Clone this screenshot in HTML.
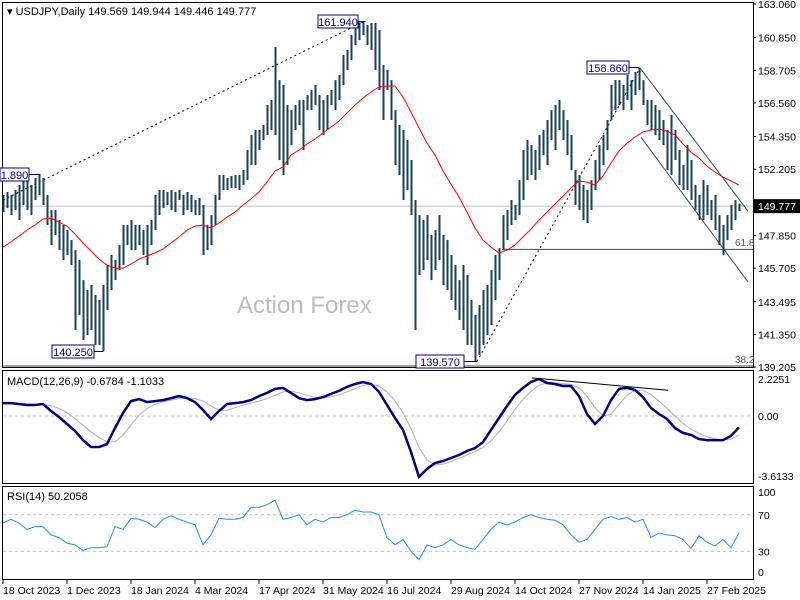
<!DOCTYPE html>
<html><head><meta charset="utf-8"><style>
html,body{margin:0;padding:0;background:#fff;}
svg{display:block;font-family:"Liberation Sans",sans-serif;}
</style></head><body>
<svg id="c" width="800" height="600" viewBox="0 0 800 600" xmlns="http://www.w3.org/2000/svg">
<rect x="0" y="0" width="800" height="600" fill="#fff"/>
<g id="frames" fill="none" stroke="#000" stroke-width="1">
<rect x="2.5" y="2.5" width="751" height="365"/>
<rect x="2.5" y="370.5" width="751" height="113"/>
<rect x="2.5" y="486.5" width="751" height="93"/>
</g>
<text x="237" y="313" font-size="24" fill="#bdbdbd">Action Forex</text>
<g id="marks"></g>
<text x="7" y="15" font-size="11" fill="#000">▾ USDJPY,Daily  149.569 149.944 149.446 149.777</text>
<text x="7" y="385" font-size="11" fill="#000">MACD(12,26,9) -0.6784 -1.1033</text>
<text x="7" y="500" font-size="11" fill="#000">RSI(14) 50.2058</text>
</svg>
<script>
const priceTicks=[163.060,160.850,158.705,156.560,154.350,152.205,147.850,145.705,143.495,141.350,139.205];
const macdTicks=[2.2251,0.00,-3.6133];
const rsiTicks=[100,70,30,0];
const dateLabels=["18 Oct 2023","1 Dec 2023","18 Jan 2024","4 Mar 2024","17 Apr 2024","31 May 2024","16 Jul 2024","29 Aug 2024","14 Oct 2024","27 Nov 2024","14 Jan 2025","27 Feb 2025"];
const highs=[150.51,150.71,150.51,150.84,151.17,151.49,151.49,151.17,151.63,151.89,151.63,150.51,149.52,149.52,148.87,148.54,148.21,147.55,146.89,146.24,144.92,144.27,144.60,143.94,143.61,144.60,145.91,146.57,146.24,147.22,148.54,148.54,148.87,148.54,148.54,148.21,148.54,148.87,150.51,150.84,150.84,150.71,150.84,150.71,150.84,150.51,150.71,150.51,150.18,150.31,149.85,148.54,149.19,150.51,151.82,151.82,151.63,151.76,151.82,151.82,152.15,153.47,154.45,154.78,154.78,155.11,156.42,156.75,160.23,158.06,157.74,156.42,156.09,156.42,156.75,156.75,157.08,157.41,157.74,157.08,156.75,157.08,157.41,158.06,158.39,159.71,160.04,161.02,161.68,161.87,161.94,161.68,161.81,161.81,161.35,159.05,158.72,158.06,156.09,155.11,154.78,154.12,152.81,150.18,149.19,148.87,149.19,147.88,148.21,149.19,147.88,147.55,146.57,145.91,144.92,145.91,145.25,143.61,142.63,143.28,144.27,144.60,145.58,146.57,147.03,149.19,149.52,150.18,149.85,151.49,153.47,154.12,153.79,153.47,154.45,154.78,155.44,156.09,156.42,156.75,156.09,155.44,154.45,152.15,151.82,151.17,150.84,151.49,152.81,153.79,154.45,155.44,157.74,158.06,158.06,157.74,158.39,158.06,158.59,158.86,158.06,156.75,156.75,156.42,156.09,155.44,154.78,155.76,154.78,153.47,152.48,153.79,152.81,151.17,150.51,151.49,151.17,150.18,150.51,149.19,148.54,149.19,149.85,150.18,149.94];
const lows=[149.39,149.65,149.19,149.52,148.87,149.85,149.52,149.19,150.18,150.51,149.85,148.54,147.22,147.88,146.89,146.24,146.57,145.91,141.64,142.63,140.98,141.31,141.64,140.66,140.66,140.25,142.95,144.27,144.92,145.58,145.91,147.22,146.89,146.89,147.22,146.57,145.91,147.22,148.21,149.19,149.65,149.85,149.52,149.39,150.18,149.19,149.52,149.39,149.19,149.19,146.57,146.89,147.22,148.54,150.18,150.84,150.84,150.97,150.97,150.84,151.17,151.49,152.48,152.48,153.47,154.12,154.45,154.78,154.45,152.81,151.82,152.48,153.79,154.78,155.11,153.47,156.09,156.09,156.42,154.78,154.45,154.78,156.42,156.09,156.75,157.74,158.72,159.38,160.36,160.69,161.02,160.36,160.04,158.72,157.41,155.44,157.41,155.44,152.48,151.82,150.18,150.84,149.19,141.64,145.25,145.58,146.24,144.92,145.58,146.24,144.60,144.27,143.61,142.95,142.30,141.64,140.66,140.66,139.57,140.00,140.66,141.31,141.97,143.61,144.92,146.89,147.55,148.54,148.87,149.19,150.18,151.49,151.82,151.49,152.15,153.14,152.48,154.12,153.47,154.78,154.12,153.14,152.15,149.85,149.52,148.87,148.67,149.52,150.84,151.49,152.48,153.47,155.44,156.09,156.42,156.09,156.75,156.09,157.08,157.41,156.42,155.11,154.78,154.45,154.12,153.79,152.15,151.82,152.81,151.17,150.84,150.84,150.18,149.52,148.87,148.87,149.19,148.87,148.21,147.22,146.57,147.55,148.21,148.87,149.45];
const ma=[147.09,147.42,147.81,148.21,148.54,148.93,149.00,148.73,148.47,147.95,147.36,146.83,146.30,145.91,145.71,145.71,145.98,146.30,146.50,146.70,146.96,147.36,147.75,148.21,148.47,148.54,148.34,148.67,149.06,149.39,149.85,150.25,150.71,151.36,152.09,152.35,153.14,153.46,153.86,154.19,154.58,154.98,155.37,155.90,156.42,156.88,157.28,157.60,157.67,157.67,156.95,155.96,154.91,153.92,153.14,152.09,151.23,150.38,149.39,148.34,147.55,147.09,146.70,146.89,147.22,147.75,148.27,148.87,149.39,149.92,150.44,150.97,151.43,151.36,151.17,151.76,152.61,153.40,153.92,154.32,154.65,154.78,154.84,154.71,154.45,153.86,153.33,152.94,152.41,152.02,151.69,151.43,151.17];
const macd=[0.78,0.78,0.72,0.66,0.66,0.72,0.30,-0.06,-0.48,-0.90,-1.45,-1.87,-1.87,-1.69,-0.72,0.18,0.90,1.02,0.84,0.90,0.96,1.08,1.20,1.08,0.84,0.36,-0.18,0.30,0.72,0.78,0.84,0.96,1.20,1.39,1.63,1.69,1.39,1.08,0.96,1.02,1.14,1.33,1.51,1.75,1.93,2.05,1.93,1.45,0.66,-0.12,-0.84,-2.17,-3.67,-3.19,-2.83,-2.71,-2.53,-2.35,-2.11,-1.93,-1.57,-0.84,-0.12,0.60,1.27,1.69,2.05,2.23,1.99,1.93,1.81,1.81,1.20,0.12,-0.48,0.00,0.96,1.63,1.69,1.57,1.14,0.48,0.12,-0.18,-0.72,-1.02,-1.14,-1.39,-1.45,-1.45,-1.45,-1.20,-0.68];
const signal=[0.78,0.78,0.76,0.72,0.70,0.70,0.62,0.45,0.20,-0.15,-0.55,-0.95,-1.30,-1.55,-1.55,-1.15,-0.55,0.05,0.45,0.70,0.85,0.95,1.05,1.10,1.05,0.90,0.60,0.35,0.35,0.50,0.65,0.78,0.90,1.05,1.25,1.45,1.50,1.40,1.25,1.12,1.08,1.15,1.28,1.45,1.65,1.85,1.92,1.80,1.45,0.90,0.20,-0.75,-1.90,-2.65,-2.95,-2.90,-2.75,-2.55,-2.35,-2.15,-1.90,-1.50,-0.95,-0.30,0.40,1.00,1.50,1.85,2.00,2.00,1.95,1.90,1.70,1.20,0.50,0.00,0.10,0.70,1.25,1.55,1.55,1.30,0.90,0.45,0.00,-0.45,-0.80,-1.05,-1.25,-1.38,-1.45,-1.40,-1.15];
const rsi=[61,65,61,54,57,57,48,45,39,37,31,34,34,35,57,54,66,65,62,56,65,69,65,62,59,37,48,66,65,65,67,78,78,81,86,65,67,70,59,65,62,67,67,70,75,73,73,70,45,37,43,30,21,37,34,37,43,37,34,32,43,54,62,59,62,67,70,67,65,64,59,48,40,43,54,65,68,65,67,62,65,45,50,48,47,43,33,47,40,36,43,34,50];
const lastPrice=149.777, fib618=146.94;

const NS='http://www.w3.org/2000/svg';
const g=document.getElementById('marks');
function py(p){return 4+(163.06-p)*15.22;}
function my(v){return 416-v*16.6;}
function ry(v){return 578.8-v*0.915;}
function bx(i){return 3.5+i*4;}
function lx(j){return 3+j*8;}
function mk(tag,attrs,parent){const e=document.createElementNS(NS,tag);for(const k in attrs)e.setAttribute(k,attrs[k]);(parent||g).appendChild(e);return e;}
function txt(x,y,s,size,fill,anchor){const t=mk('text',{x:x,y:y,'font-size':size,fill:fill});if(anchor)t.setAttribute('text-anchor',anchor);t.textContent=s;return t;}

// grid-ish reference lines
let l=mk('line',{x1:3,x2:753,y1:py(lastPrice),y2:py(lastPrice),stroke:'#c0c0c0','stroke-width':1});


l=mk('line',{x1:3,x2:753,y1:my(0),y2:my(0),stroke:'#c0c0c0','stroke-dasharray':'3,3'});


[70,30].forEach(v=>{const e=mk('line',{x1:3,x2:753,y1:ry(v),y2:ry(v),stroke:'#c0c0c0','stroke-dasharray':'3,3'});

});

// fib lines
l=mk('line',{x1:502,x2:753,y1:py(fib618),y2:py(fib618),stroke:'#2f4f4f','stroke-width':1});


l=mk('line',{x1:3,x2:753,y1:366,y2:366,stroke:'#2f4f4f','stroke-width':1});


let t=txt(735,246,'61.8',10,'#555');


t=txt(735,363,'38.2',10,'#555');



// trend lines
l=mk('line',{x1:3,y1:py(150.18),x2:365,y2:py(161.94),stroke:'#000','stroke-dasharray':'2,3'});


l=mk('line',{x1:477,y1:py(139.57),x2:640,y2:py(158.86),stroke:'#000','stroke-dasharray':'2,3'});


l=mk('line',{x1:640,y1:py(158.86),x2:748,y2:py(149.45),stroke:'#2f4f4f'});


l=mk('line',{x1:641,y1:py(154.3),x2:748,y2:py(144.8),stroke:'#2f4f4f'});



// price bars
highs.forEach((h,i)=>{const b=mk('rect',{x:bx(i)-1,y:py(h),width:2,height:Math.max(1,py(lows[i])-py(h)),fill:'#1a4055'});

});

// MA
function path(arr,xf,yf){return arr.map((v,j)=>(j?'L':'M')+xf(j).toFixed(1)+' '+yf(v).toFixed(1)).join(' ');}
l=mk('path',{d:path(ma,lx,py),fill:'none',stroke:'#ff0000','stroke-width':1});



// MACD
l=mk('path',{d:path(signal,lx,my),fill:'none',stroke:'#b0b0b0','stroke-width':1});


l=mk('path',{d:path(macd,lx,my),fill:'none',stroke:'#000080','stroke-width':2.5});


l=mk('line',{x1:532,y1:my(2.3),x2:668,y2:my(1.55),stroke:'#000','stroke-width':1});



// RSI
l=mk('path',{d:path(rsi,lx,ry),fill:'none',stroke:'#1e90ff','stroke-width':1});



// price label boxes
function box(x,y,w,s,lx2,ly2,name){const r=mk('rect',{x:x,y:y,width:w,height:13,fill:'#fff',stroke:'#000080'});


const tt=txt(x+w/2,y+11,s,11,'#000080','middle');


mk('polyline',{points:(x+w)+','+(y+6.5)+' '+lx2+','+(y+6.5)+' '+lx2+','+ly2,fill:'none',stroke:'#000080'});}
box(318,15,40,'161.940',365,py(161.94),'label-161-940');
box(587,61,42,'158.860',639,py(158.86),'label-158-860');
box(52,345,42,'140.250',103,py(140.25),'label-140-250');
box(0,168,29,'1.890',40,py(151.89),'label-151-890');
box(416,355,48,'139.570',477,py(139.57),'label-139-570');

// axes
priceTicks.forEach(v=>{const e=txt(758,py(v)+4,v.toFixed(3),10.5,'#000');


mk('line',{x1:753,x2:756,y1:py(v),y2:py(v),stroke:'#000'});});
const lb=mk('rect',{x:754,y:py(lastPrice)-7,width:46,height:14,fill:'#000'});


t=txt(758,py(lastPrice)+4,lastPrice.toFixed(3),10.5,'#fff');


macdTicks.forEach(v=>{const yy=Math.min(Math.max(my(v),378),476);const e=txt(758,yy+4,v===0?'0.00':v.toFixed(4),10.5,'#000');

});
rsiTicks.forEach(v=>{const yy=Math.min(Math.max(ry(v),492),572);const e=txt(758,yy+4,String(v),10.5,'#000');

});
dateLabels.forEach((s,i)=>{const x=3+i*64;const e=txt(x,594,s,10.5,'#000');


mk('line',{x1:x,x2:x,y1:580,y2:584,stroke:'#000'});});
</script>
</body></html>
